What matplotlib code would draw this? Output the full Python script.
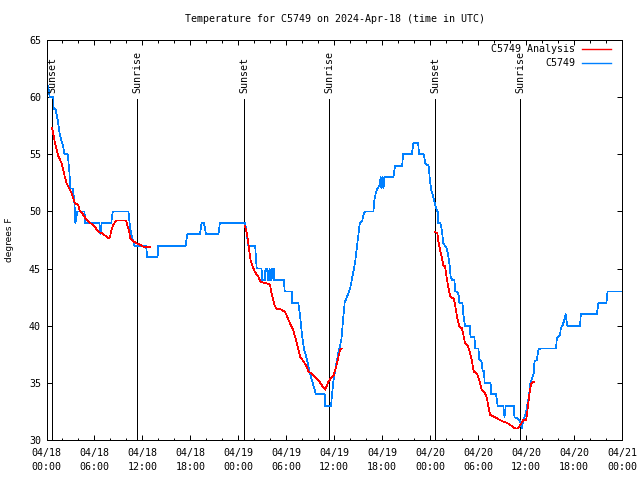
import numpy as np
import matplotlib
matplotlib.use("Agg")
import matplotlib.pyplot as plt
from matplotlib.lines import Line2D
from matplotlib.ticker import MultipleLocator, FixedLocator

# ---------------- data ----------------
# (hours since 2024-04-18 00:00 UTC, degrees F)
obs_points = [
    (0.2, 61), (0.4, 60), (0.85, 60), (0.9, 59), (1.15, 58.9), (1.4, 58), (1.6, 57),
    (1.85, 56.2), (2.05, 55.8), (2.25, 55), (2.65, 55), (2.85, 53.6), (3.0, 52),
    (3.3, 52), (3.5, 50.7), (3.6, 49), (3.75, 49.5), (3.85, 50), (4.75, 50), (4.85, 49),
    (6.6, 49), (6.75, 48), (6.9, 49), (8.1, 49), (8.3, 50), (10.25, 50), (10.4, 49),
    (10.6, 48), (10.8, 47.5), (11.0, 47), (12.45, 47), (12.6, 46), (13.9, 46),
    (13.95, 47), (17.4, 47), (17.6, 48), (19.2, 48), (19.4, 49), (19.7, 49),
    (19.95, 48), (21.5, 48), (21.7, 49),
    (24.85, 49), (25.05, 48), (25.25, 47), (26.1, 47), (26.2, 46), (26.3, 45),
    (26.9, 45), (27.0, 44), (27.3, 44), (27.4, 45), (27.6, 45), (27.7, 44),
    (27.8, 44), (27.9, 45), (28.05, 44), (28.15, 44), (28.25, 45), (28.4, 44),
    (28.45, 45), (28.55, 44), (29.7, 44),
    (29.8, 43), (30.7, 43), (30.75, 42), (31.5, 42), (31.7, 41), (31.85, 40), (32.0, 39),
    (32.2, 38), (32.4, 37.5), (32.6, 37), (32.75, 36.5), (32.9, 36), (33.1, 35.5),
    (33.3, 35), (33.7, 34), (34.8, 34), (34.85, 33), (35.6, 33), (35.7, 33.8),
    (35.9, 35.2), (36.2, 36.4), (36.5, 37.6), (36.9, 38.8), (37.1, 40.5), (37.3, 42),
    (37.8, 42.9), (38.0, 43.3), (38.6, 45.5), (39.0, 47.8), (39.2, 49), (39.5, 49.2),
    (39.7, 49.8), (39.9, 50), (40.9, 50), (41.0, 50.9), (41.2, 51.6), (41.4, 52),
    (41.7, 52.3), (41.8, 53), (41.9, 52), (42.05, 53), (42.15, 52), (42.3, 53),
    (43.4, 53), (43.6, 54), (44.5, 54), (44.6, 55), (45.7, 55), (45.9, 56),
    (46.5, 56), (46.6, 55), (47.2, 55), (47.4, 54.2), (47.8, 54), (47.95, 52.9),
    (48.1, 52), (48.4, 51.2), (48.7, 50.4), (48.9, 50), (49.0, 50), (49.0, 49),
    (49.25, 49), (49.45, 48.4), (49.55, 47.8), (49.65, 47.2), (49.85, 47), (50.05, 46.8),
    (50.25, 46.2), (50.45, 45.2), (50.55, 44.3), (50.75, 44), (51.05, 44), (51.1, 43),
    (51.35, 43), (51.55, 42.7), (51.65, 42), (52.05, 42), (52.1, 41.2), (52.35, 40),
    (52.95, 40), (53.05, 39), (53.55, 39), (53.6, 38), (54.05, 38), (54.1, 37.1),
    (54.45, 36.8), (54.55, 36.1), (54.75, 36), (54.8, 35), (55.55, 35), (55.65, 34),
    (56.25, 34), (56.45, 33), (57.15, 33), (57.3, 32), (57.45, 33), (58.45, 33),
    (58.55, 32), (58.85, 31.9), (59.15, 31.75), (59.3, 31.5), (59.45, 31), (59.65, 31.75),
    (59.95, 32.3), (60.35, 33.8), (60.55, 35), (60.95, 35.8), (61.05, 36.9), (61.35, 37),
    (61.55, 37.9), (61.75, 38), (63.75, 38), (63.85, 38.9), (64.25, 39.2), (64.35, 39.8),
    (64.55, 40), (64.85, 40.65), (64.95, 41), (65.15, 40), (66.75, 40), (66.85, 41),
    (68.85, 41), (69.05, 42), (70.05, 42), (70.2, 43), (72.0, 43),
]

ana_night1 = [
    (0.7, 57.3), (0.85, 56.8), (1.05, 56.0), (1.5, 54.8), (1.7, 54.5), (1.9, 54.2),
    (2.1, 53.6), (2.3, 53.0), (2.5, 52.5), (2.7, 52.2), (3.15, 51.6), (3.35, 51.15),
    (3.55, 50.7), (3.95, 50.6), (4.15, 50.1), (4.6, 49.7), (5.0, 49.25), (5.45, 49.0),
    (5.9, 48.8), (6.5, 48.2), (6.9, 48.1), (7.3, 47.9), (7.75, 47.65), (7.95, 47.8),
    (8.15, 48.4), (8.35, 48.8), (8.7, 49.2), (9.95, 49.2), (10.15, 48.7), (10.35, 48.2),
    (10.45, 47.65), (10.65, 47.5), (10.85, 47.4), (11.25, 47.2), (11.65, 47.1),
    (12.15, 46.9), (12.95, 46.9),
]
ana_night2 = [
    (24.82, 48.7), (25.03, 48.2), (25.23, 47.35), (25.36, 46.6), (25.53, 45.75),
    (25.78, 45.2), (26.07, 44.7), (26.49, 44.3), (26.78, 43.85), (27.54, 43.7),
    (27.96, 43.6), (28.17, 42.8), (28.37, 42.25), (28.58, 41.7), (28.79, 41.5),
    (29.42, 41.4), (29.84, 41.2), (30.05, 40.9), (30.46, 40.2), (30.88, 39.6),
    (31.09, 39.05), (31.3, 38.5), (31.51, 37.9), (31.72, 37.3), (32.14, 36.9),
    (32.55, 36.4), (32.76, 36.0), (33.18, 35.8), (33.6, 35.5), (34.02, 35.25),
    (34.44, 34.8), (34.86, 34.4), (35.27, 35.1), (35.69, 35.5), (35.9, 35.6),
    (36.24, 36.4), (36.53, 37.3), (36.74, 37.9), (36.95, 38.0),
]
ana_night3 = [
    (48.62, 48.2), (48.9, 48.1), (49.03, 47.35), (49.25, 46.6), (49.45, 46.0),
    (49.65, 45.3), (49.85, 45.2), (50.05, 44.3), (50.25, 43.4), (50.55, 42.5),
    (50.95, 42.4), (51.15, 41.7), (51.35, 40.8), (51.65, 39.9), (51.95, 39.8),
    (52.15, 39.2), (52.35, 38.5), (52.75, 38.2), (52.95, 37.7), (53.2, 37.0),
    (53.45, 36.0), (53.85, 35.8), (54.05, 35.4), (54.25, 34.96), (54.45, 34.4),
    (54.85, 34.1), (55.05, 33.8), (55.3, 32.9), (55.5, 32.2), (55.95, 32.04),
    (56.35, 31.9), (56.75, 31.75), (57.15, 31.6), (57.6, 31.5), (58.25, 31.2),
    (58.65, 31.0), (58.95, 31.0), (59.25, 31.3), (59.65, 31.75), (60.0, 31.75),
    (60.1, 32.2), (60.45, 34.2), (60.65, 34.96), (60.85, 35.1), (61.03, 35.1),
]

sunset_hours = [0.73, 24.76, 48.62]
sunrise_hours = [11.36, 35.4, 59.26]

tick_hours = [0, 6, 12, 18, 24, 30, 36, 42, 48, 54, 60, 66, 72]
tick_labels = ["04/18\n00:00", "04/18\n06:00", "04/18\n12:00", "04/18\n18:00",
               "04/19\n00:00", "04/19\n06:00", "04/19\n12:00", "04/19\n18:00",
               "04/20\n00:00", "04/20\n06:00", "04/20\n12:00", "04/20\n18:00",
               "04/21\n00:00"]

# ---------------- plot ----------------
MONO = "DejaVu Sans Mono"
FS = 7.2
LW = 0.5
RED = "#ff0000"
BLUE = "#0080ff"

fig = plt.figure(figsize=(6.4, 4.8), dpi=100)
ax = fig.add_axes([46.5 / 640, 40 / 480, (622 - 46.5) / 640, 400 / 480])

for h in sunset_hours + sunrise_hours:
    ax.plot([h, h], [30, 59.8], color="black", lw=LW, antialiased=False, zorder=1)
for h in sunset_hours:
    ax.text(h, 60.4, "Sunset", rotation=90, ha="center", va="bottom",
            family=MONO, fontsize=FS)
for h in sunrise_hours:
    ax.text(h, 60.4, "Sunrise", rotation=90, ha="center", va="bottom",
            family=MONO, fontsize=FS)

for seg in (ana_night1, ana_night2, ana_night3):
    hh, tt = zip(*seg)
    ax.plot(hh, tt, color=RED, lw=LW, antialiased=False, zorder=3)
oh, ot = zip(*obs_points)
ax.plot(oh, ot, color=BLUE, lw=LW, antialiased=False, zorder=2)

ax.set_xlim(0, 72)
ax.set_ylim(30, 65)
ax.xaxis.set_major_locator(FixedLocator(tick_hours))
ax.set_xticklabels(tick_labels)
ax.xaxis.set_minor_locator(MultipleLocator(2))
ax.yaxis.set_major_locator(MultipleLocator(5))

ax.tick_params(which="both", direction="in", top=True, right=True, width=0.72,
               labelsize=FS, colors="black")
ax.tick_params(which="major", length=3.4)
ax.tick_params(which="minor", length=1.8)
ax.tick_params(axis="x", pad=6)
ax.tick_params(axis="y", pad=4)
for lab in ax.get_xticklabels() + ax.get_yticklabels():
    lab.set_family(MONO)
    lab.set_linespacing(1.4)
for s in ax.spines.values():
    s.set_linewidth(0.72)

fig.text(335 / 640, 1 - 19 / 480, "Temperature for C5749 on 2024-Apr-18 (time in UTC)",
         ha="center", va="center", family=MONO, fontsize=FS)
fig.text(10 / 640, 0.5, "degrees F", rotation=90, ha="center", va="center",
         family="DejaVu Sans", fontsize=6.5)

handles = [Line2D([], [], color=RED, lw=1.0), Line2D([], [], color=BLUE, lw=1.0)]
labels = ["C5749 Analysis", "C5749"]
leg = ax.legend(handles, labels, loc="upper right", bbox_to_anchor=(611 / 640, 1 - 44 / 480),
                bbox_transform=fig.transFigure, frameon=False, markerfirst=False,
                prop={"family": MONO, "size": FS}, handlelength=2.9,
                handletextpad=0.7, labelspacing=0.45, borderpad=0, borderaxespad=0)
leg._legend_box.align = "right"

fig.savefig("out.png", dpi=100)
